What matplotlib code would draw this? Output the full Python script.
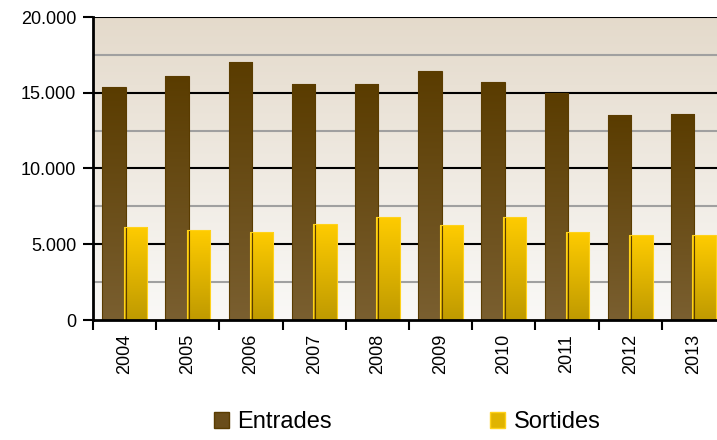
import matplotlib
matplotlib.use("Agg")
import matplotlib.pyplot as plt
import matplotlib.colors as mcolors
import numpy as np

plt.rcParams['font.family'] = ['Liberation Sans', 'DejaVu Sans']

years = ['2004', '2005', '2006', '2007', '2008', '2009', '2010', '2011', '2012', '2013']
entrades = [15380, 16110, 17030, 15580, 15580, 16440, 15710, 14960, 13530, 13600]
sortides = [6140, 5940, 5810, 6340, 6800, 6270, 6800, 5810, 5610, 5610]
yticks = [0, 5000, 10000, 15000, 20000]
ytick_labels = ['0', '5.000', '10.000', '15.000', '20.000']


def gradient_bars(ax, bars, top_col, bot_col, edge_col):
    cmap = mcolors.LinearSegmentedColormap.from_list('g', [bot_col, top_col])
    grad = np.linspace(0, 1, 256).reshape(-1, 1)
    for b in bars:
        x0, y0 = b.get_x(), b.get_y()
        w, h = b.get_width(), b.get_height()
        im = ax.imshow(grad, extent=[x0, x0 + w, y0, y0 + h], origin='lower',
                       aspect='auto', cmap=cmap, zorder=3, interpolation='bicubic')
        im.set_clip_path(b)
        b.set_edgecolor(edge_col)
        b.set_linewidth(0.8)
        b.set_zorder(4)


fig = plt.figure(figsize=(7.17, 4.40), dpi=100)
ax = fig.add_axes([93 / 717, 120 / 440, 632 / 717, 303 / 440])

# background gradient
bg = mcolors.LinearSegmentedColormap.from_list('bg', ['#FAF9F7', '#E4DACB'])
ax.imshow(np.linspace(0, 1, 256).reshape(-1, 1), extent=[-0.5, 9.5, 0, 20000],
          origin='lower', aspect='auto', cmap=bg, zorder=0)

x = np.arange(len(years))
w = 0.37
b1 = ax.bar(x - 0.17, entrades, w, color='none', zorder=4)
b2 = ax.bar(x + 0.17, sortides, w, color='none', zorder=4)
gradient_bars(ax, b1, '#5A3C00', '#7A5F30', '#5A3C00')
gradient_bars(ax, b2, '#FFCC00', '#BF9A00', '#FFD21A')

ax.set_xlim(-0.5, 9.5)
ax.set_ylim(0, 20000)

# grid
for v in np.arange(2500, 20000, 5000):
    ax.axhline(v, color='#A0A0A0', lw=1.5, zorder=1)
for v in yticks[1:]:
    ax.axhline(v, color='black', lw=1.5, zorder=1)

ax.set_yticks(yticks)
ax.set_yticklabels(ytick_labels, fontsize=13)
ax.set_xticks(np.arange(-0.5, 9.6, 1))
ax.set_xticklabels([])
ax.set_xticks(x, minor=True)
ax.set_xticklabels(years, minor=True, rotation=90, fontsize=13)
ax.tick_params(axis='x', which='minor', length=0, pad=10)
ax.tick_params(axis='x', which='major', length=7, width=1.5, direction='out')
ax.tick_params(axis='y', length=7, width=1.5, direction='out', pad=5)

for s in ['top', 'right']:
    ax.spines[s].set_visible(False)
for s in ['left', 'bottom']:
    ax.spines[s].set_linewidth(2)
    ax.spines[s].set_zorder(5)

h1 = plt.Rectangle((0, 0), 1, 1, facecolor='#6A4D1A', edgecolor='#5A3C00')
h2 = plt.Rectangle((0, 0), 1, 1, facecolor='#E0B400', edgecolor='#FFD21A')
fig.legend([h1, h2], ['Entrades', 'Sortides'], loc='center', ncol=2,
           bbox_to_anchor=(407 / 717, 1 - 422 / 440), frameon=False, fontsize=17,
           handlelength=0.65, handleheight=0.65, handletextpad=0.35,
           columnspacing=6.7)

fig.savefig('out.png', dpi=100)
